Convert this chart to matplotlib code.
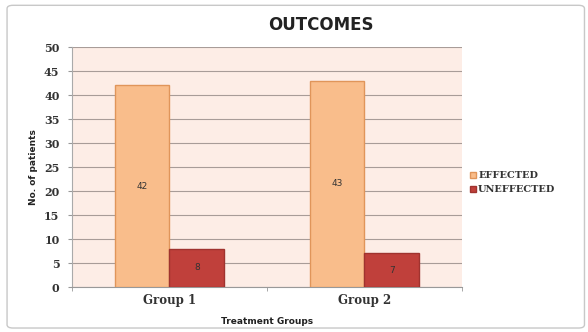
import numpy as np
import matplotlib
matplotlib.use('Agg')
import matplotlib.pyplot as plt
from matplotlib.patches import FancyBboxPatch

groups = ['Group 1', 'Group 2']
effected = [42, 43]
uneffected = [8, 7]
series_names = ['EFFECTED', 'UNEFFECTED']

fig = plt.figure(figsize=(5.88, 3.32), dpi=100)
fig.patch.set_facecolor('white')

# outer chart border
border = FancyBboxPatch((0.012, 0.012), 0.982, 0.972, boxstyle='round,pad=0,rounding_size=0.01',
                        transform=fig.transFigure, fill=False, edgecolor='#c8c8c8', linewidth=1.0)
fig.patches.append(border)

ax = fig.add_axes([0.1224, 0.1355, 0.6633, 0.7229])
ax.set_facecolor('#fdede6')

x = np.arange(len(groups))
w = 0.28
b1 = ax.bar(x - w / 2, effected, w, color='#f9bd8b', edgecolor='#e0955a', linewidth=1.0,
            label=series_names[0], zorder=3)
b2 = ax.bar(x + w / 2, uneffected, w, color='#c0403b', edgecolor='#a0332f', linewidth=1.0,
            label=series_names[1], zorder=3)

for bars in (b1, b2):
    for r in bars:
        h = r.get_height()
        ax.text(r.get_x() + r.get_width() / 2, h / 2, str(int(h)), ha='center', va='center',
                fontsize=6.5, color='#333333', zorder=4)

ax.set_xlim(-0.5, 1.5)
ax.set_ylim(0, 50)
ax.set_yticks(range(0, 51, 5))
ax.yaxis.grid(True, color='#a89c98', linewidth=0.8, zorder=1)
ax.set_axisbelow(True)

ax.set_xticks(x)
ax.set_xticklabels(groups, fontfamily='DejaVu Serif', fontweight='bold', fontsize=8.5, color='#333333')
ax.set_xticks([-0.5, 0.5, 1.5], minor=True)
ax.tick_params(axis='x', which='major', length=0, pad=5)
ax.tick_params(axis='x', which='minor', length=3, color='#999999')
for lab in ax.get_yticklabels():
    lab.set_fontfamily('DejaVu Serif')
    lab.set_fontweight('bold')
    lab.set_fontsize(8)
    lab.set_color('#333333')
ax.tick_params(axis='y', length=3, color='#999999', pad=6)

for s in ['top', 'right']:
    ax.spines[s].set_visible(False)
ax.spines['left'].set_color('#aaaaaa')
ax.spines['bottom'].set_color('#999999')

ax.set_ylabel('No. of patients', fontsize=6.5, fontweight='bold', color='#222222', labelpad=4)
ax.set_xlabel('Treatment Groups', fontsize=6.5, fontweight='bold', color='#222222', labelpad=7)

fig.text(0.545, 0.925, 'OUTCOMES', ha='center', va='center', fontsize=12, fontweight='bold',
         color='#222222')

leg = fig.legend(handles=[b1, b2], labels=series_names, loc='center left',
                 bbox_to_anchor=(0.785, 0.45), frameon=False, handlelength=0.6, handleheight=0.6,
                 handletextpad=0.2, labelspacing=0.5,
                 prop={'family': 'DejaVu Serif', 'weight': 'bold', 'size': 7})
for t in leg.get_texts():
    t.set_color('#333333')

fig.savefig('out.png', dpi=100)
